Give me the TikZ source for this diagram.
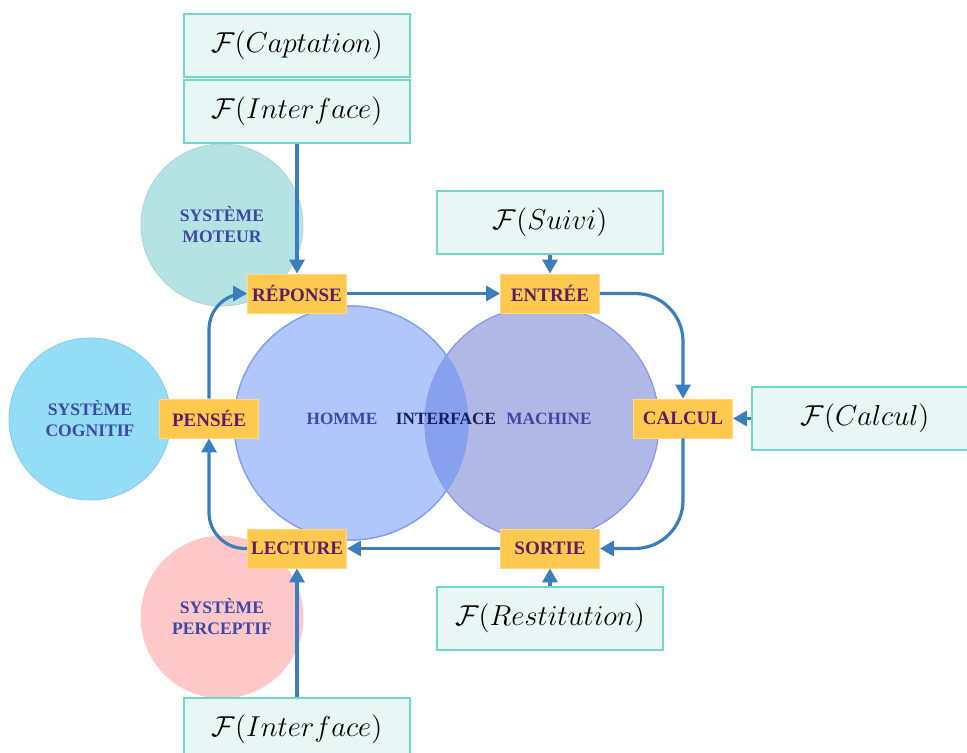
\documentclass[tikz,border=0pt]{standalone}
\usepackage{fontspec}
\newfontfamily\lbl{Liberation Serif}
\usetikzlibrary{arrows.meta,positioning}
\definecolor{boxfill}{HTML}{E8F7F3}
\definecolor{boxline}{HTML}{6ED8CB}
\definecolor{jaune}{HTML}{FFC94F}
\definecolor{prune}{HTML}{5A1E66}
\definecolor{bleufl}{HTML}{3C7EBB}
\definecolor{bleutxt}{HTML}{3D47A5}
\definecolor{navy}{HTML}{151D5C}
\definecolor{moteur}{HTML}{B5E3E3}
\definecolor{cognitif}{HTML}{93DEF6}
\definecolor{perceptif}{HTML}{FFC8C8}
\definecolor{homme}{HTML}{B1C6FB}
\definecolor{machine}{HTML}{B0B8E6}
\definecolor{inter}{HTML}{88A1EE}
\definecolor{bord}{HTML}{7FA1F2}

\begin{document}
\begin{tikzpicture}[x=0.5pt,y=-0.5pt,
  fbox/.style={draw=boxline, fill=boxfill, line width=0.8pt, minimum width=113pt, minimum height=31.5pt, inner sep=0pt, font=\fontsize{14.5}{17}\selectfont},
  etape/.style={fill=jaune, draw=jaune!70!white, line width=0.4pt, minimum width=49.5pt, minimum height=19.5pt, inner sep=0pt, text=prune, font=\lbl\bfseries\fontsize{9.5}{11}\selectfont},
  sys/.style={circle, minimum size=81pt, inner sep=0pt, align=center, text=bleutxt, font=\lbl\bfseries\fontsize{8.8}{10.5}\selectfont},
  lab/.style={text=bleutxt, font=\lbl\bfseries\fontsize{8.6}{10}\selectfont},
  fleche/.style={draw=bleufl, line width=1.6pt, -{Triangle[length=7pt,width=7.5pt]}}]
\useasboundingbox (0,0) rectangle (967,753);

% Systemes
\node[sys, fill=moteur, draw=moteur!90!black!60!moteur] (smoteur) at (222,225) {SYSTÈME\\MOTEUR};
\node[sys, fill=cognitif, draw=cognitif!90!blue] (scognitif) at (90,419) {SYSTÈME\\COGNITIF};
\node[sys, fill=perceptif, draw=perceptif] (sperceptif) at (222,617) {SYSTÈME\\PERCEPTIF};

% Homme / machine
\node[circle, minimum size=117pt, fill=homme, draw=bord, line width=0.6pt] (homme) at (351,423) {};
\node[circle, minimum size=117pt, fill=machine, draw=machine!80!blue, line width=0.6pt] (machine) at (542,423) {};
\begin{scope}
\clip (homme.center) circle (58.5pt);
\fill[inter] (machine.center) circle (58.5pt);
\end{scope}
\draw[bord, line width=0.6pt] (homme.center) circle (58.5pt);
\node[lab] (thomme) at (342,419) {HOMME};
\node[lab, text=navy] (tinter) at (446,419) {INTERFACE};
\node[lab] (tmachine) at (549,419) {MACHINE};

% Fonctions
\node[fbox] (captation) at (297,45.5) {$\mathcal{F}(Captation)$};
\node[fbox] (interh) at (297,111.5) {$\mathcal{F}(Interface)$};
\node[fbox] (suivi) at (550,222.5) {$\mathcal{F}(Suivi)$};
\node[fbox] (fcalcul) at (865,418.5) {$\mathcal{F}(Calcul)$};
\node[fbox] (restit) at (550,618.5) {$\mathcal{F}(Restitution)$};
\node[fbox] (interb) at (297,729.5) {$\mathcal{F}(Interface)$};

% Etapes
\node[etape] (reponse) at (297,293.5) {RÉPONSE};
\node[etape] (entree) at (550,293.5) {ENTRÉE};
\node[etape] (pensee) at (209,418.5) {PENSÉE};
\node[etape] (calcul) at (683,418.5) {CALCUL};
\node[etape] (lecture) at (297,548.5) {LECTURE};
\node[etape] (sortie) at (550,548.5) {SORTIE};

% Fleches
\draw[fleche] (interh) -- (reponse);
\draw[fleche] (reponse) -- (entree);
\draw[fleche] (suivi) -- (entree);
\draw[fleche, rounded corners=24pt] (entree.east) -| (calcul.north);
\draw[fleche] (fcalcul) -- (calcul);
\draw[fleche, rounded corners=24pt] (calcul.south) |- (sortie.east);
\draw[fleche] (sortie) -- (lecture);
\draw[fleche] (restit) -- (sortie);
\draw[fleche] (interb) -- (lecture);
\draw[fleche, rounded corners=18pt] (lecture.west) -| (pensee.south);
\draw[fleche, rounded corners=18pt] (pensee.north) |- (reponse.west);
\end{tikzpicture}
\end{document}
